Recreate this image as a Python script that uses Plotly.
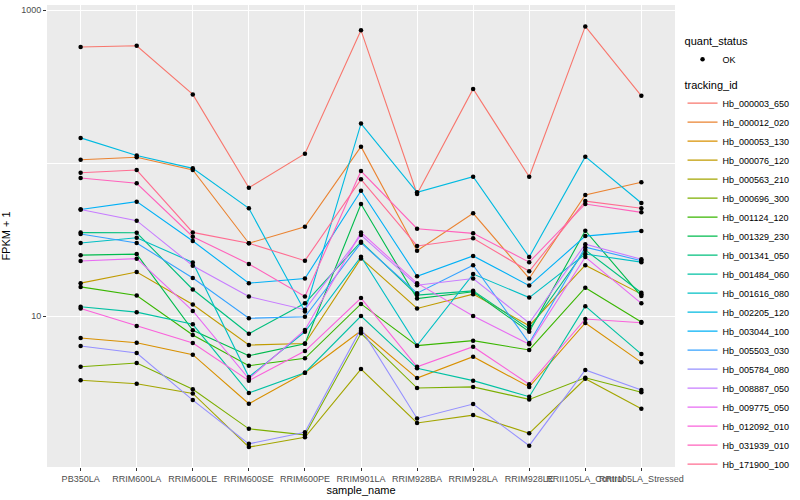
import plotly.graph_objects as go

samples = ["PB350LA", "RRIM600LA", "RRIM600LE", "RRIM600SE", "RRIM600PE", "RRIM901LA",
           "RRIM928BA", "RRIM928LA", "RRIM928LE", "RRII105LA_Control", "RRII105LA_Stressed"]

tracking_ids = ["Hb_000003_650", "Hb_000012_020", "Hb_000053_130", "Hb_000076_120", "Hb_000563_210",
                "Hb_000696_300", "Hb_001124_120", "Hb_001329_230", "Hb_001341_050", "Hb_001484_060",
                "Hb_001616_080", "Hb_002205_120", "Hb_003044_100", "Hb_005503_030", "Hb_005784_080",
                "Hb_008887_050", "Hb_009775_050", "Hb_012092_010", "Hb_031939_010", "Hb_171900_100"]

colors = ["#F8766D", "#EA8331", "#D89000", "#C09B00", "#A3A500", "#7CAE00", "#39B600", "#00BB4E",
          "#00BF7D", "#00C1A3", "#00BFC4", "#00BAE0", "#00B0F6", "#35A2FF", "#9590FF", "#C77CFF",
          "#E76BF3", "#FA62DB", "#FF62BC", "#FF6C91"]

# FPKM + 1 per sample
hb_000003_650 = [573, 584, 281, 68.9, 115, 737, 62.7, 305, 81.4, 782, 275]
hb_000012_020 = [105, 109, 90.0, 29.9, 38.3, 128, 26.7, 46.9, 17.6, 61.8, 74.8]
hb_000053_130 = [7.18, 6.69, 5.59, 2.67, 4.26, 8.01, 3.93, 5.42, 3.44, 9.00, 4.98]
hb_000076_120 = [16.4, 19.4, 11.9, 6.46, 6.61, 23.8, 11.2, 13.9, 8.64, 21.5, 13.9]
hb_000563_210 = [3.80, 3.61, 3.12, 1.39, 1.61, 4.50, 2.00, 2.25, 1.71, 3.89, 2.48]
hb_000696_300 = [4.66, 4.93, 3.32, 1.83, 1.67, 7.71, 3.38, 3.44, 2.85, 3.95, 3.17]
hb_001124_120 = [15.5, 13.6, 7.51, 4.73, 5.29, 12.0, 6.40, 6.90, 6.00, 15.3, 9.14]
hb_001329_230 = [25.0, 25.4, 8.06, 5.50, 6.59, 54.0, 13.0, 14.4, 7.89, 36.1, 13.5]
hb_001341_050 = [35.1, 35.0, 14.9, 7.66, 12.1, 30.6, 13.7, 14.6, 8.22, 27.0, 14.2]
hb_001484_060 = [11.5, 10.6, 8.83, 3.14, 4.26, 10.0, 4.55, 3.78, 2.97, 11.6, 5.64]
hb_001616_080 = [30.0, 32.5, 22.4, 3.99, 7.89, 24.4, 6.40, 18.8, 13.2, 25.4, 22.5]
hb_002205_120 = [146, 112, 92.3, 50.6, 10.7, 181, 64.3, 81.4, 24.3, 110, 54.8]
hb_003044_100 = [49.7, 55.9, 30.9, 16.4, 17.6, 65.9, 18.2, 24.7, 15.8, 33.3, 35.9]
hb_005503_030 = [34.4, 30.0, 17.7, 9.66, 9.89, 30.1, 14.1, 21.5, 6.66, 28.2, 23.0]
hb_005784_080 = [6.37, 5.73, 2.82, 1.46, 1.74, 8.26, 2.14, 2.66, 1.42, 4.44, 3.28]
hb_008887_050 = [49.7, 42.0, 21.3, 13.4, 11.0, 33.8, 15.9, 17.6, 9.00, 29.5, 23.5]
hb_009775_050 = [22.9, 23.7, 10.8, 3.89, 8.10, 35.2, 16.4, 10.0, 6.53, 24.3, 12.1]
hb_012092_010 = [11.2, 8.60, 6.66, 3.78, 5.90, 13.1, 4.66, 6.30, 3.58, 9.56, 9.04]
hb_031939_010 = [79.8, 73.7, 33.0, 21.9, 13.4, 88.6, 37.2, 34.7, 22.5, 54.0, 47.6]
hb_171900_100 = [86.4, 90.0, 35.2, 29.9, 23.0, 78.2, 28.7, 32.2, 19.6, 56.4, 50.6]

series_values = [hb_000003_650, hb_000012_020, hb_000053_130, hb_000076_120, hb_000563_210,
                 hb_000696_300, hb_001124_120, hb_001329_230, hb_001341_050, hb_001484_060,
                 hb_001616_080, hb_002205_120, hb_003044_100, hb_005503_030, hb_005784_080,
                 hb_008887_050, hb_009775_050, hb_012092_010, hb_031939_010, hb_171900_100]

quant_status = "OK"

FONT = "Liberation Sans, Arial, sans-serif"

fig = go.Figure()

for i, (tid, vals) in enumerate(zip(tracking_ids, series_values)):
    fig.add_trace(go.Scatter(
        x=samples, y=vals, mode="lines", name=tid,
        line=dict(color=colors[i], width=1.1),
        legend="legend2", showlegend=True, hoverinfo="skip",
    ))

all_x = []
all_y = []
for vals in series_values:
    all_x.extend(samples)
    all_y.extend(vals)

fig.add_trace(go.Scatter(
    x=all_x, y=all_y, mode="markers", name=quant_status,
    marker=dict(color="black", size=4.5, symbol="circle"),
    legend="legend", showlegend=True,
))

fig.update_layout(
    width=800, height=500,
    margin=dict(l=45, r=117, t=5, b=33),
    paper_bgcolor="white",
    plot_bgcolor="#EBEBEB",
    font=dict(family=FONT, size=9, color="#4D4D4D"),
    showlegend=True,
    legend=dict(
        x=1.012, y=0.945, xanchor="left", yanchor="top",
        title=dict(text="quant_status", font=dict(size=11, color="black")),
        font=dict(size=9, color="black", family=FONT),
        bgcolor="rgba(0,0,0,0)", itemwidth=30,
    ),
    legend2=dict(
        x=1.012, y=0.85, xanchor="left", yanchor="top",
        title=dict(text="tracking_id", font=dict(size=11, color="black")),
        font=dict(size=9, color="black", family=FONT),
        bgcolor="rgba(0,0,0,0)", itemwidth=30,
    ),
)

fig.update_xaxes(
    type="category", categoryorder="array", categoryarray=samples,
    range=[-0.6, 10.6], tickangle=0,
    showgrid=True, gridcolor="white", gridwidth=1.1,
    ticks="outside", ticklen=3, tickcolor="#333333", tickwidth=1,
    tickfont=dict(size=9, color="#4D4D4D"),
    showline=False, zeroline=False,
    title=dict(text="sample_name", font=dict(size=11, color="black"), standoff=1),
)

fig.update_yaxes(
    type="log", range=[0.013, 3.033],
    tickvals=[10, 1000], ticktext=["10", "1000"],
    showgrid=True, gridcolor="white", gridwidth=1.1,
    minor=dict(tickvals=[100], showgrid=True, gridcolor="white", gridwidth=0.55, ticks=""),
    ticks="outside", ticklen=3, tickcolor="#333333", tickwidth=1,
    tickfont=dict(size=9, color="#4D4D4D"),
    showline=False, zeroline=False,
    title=dict(text="FPKM + 1", font=dict(size=11, color="black"), standoff=8),
)

fig.write_html("out.html", config={"displayModeBar": False},
               post_script="document.body.style.margin='0px';")
